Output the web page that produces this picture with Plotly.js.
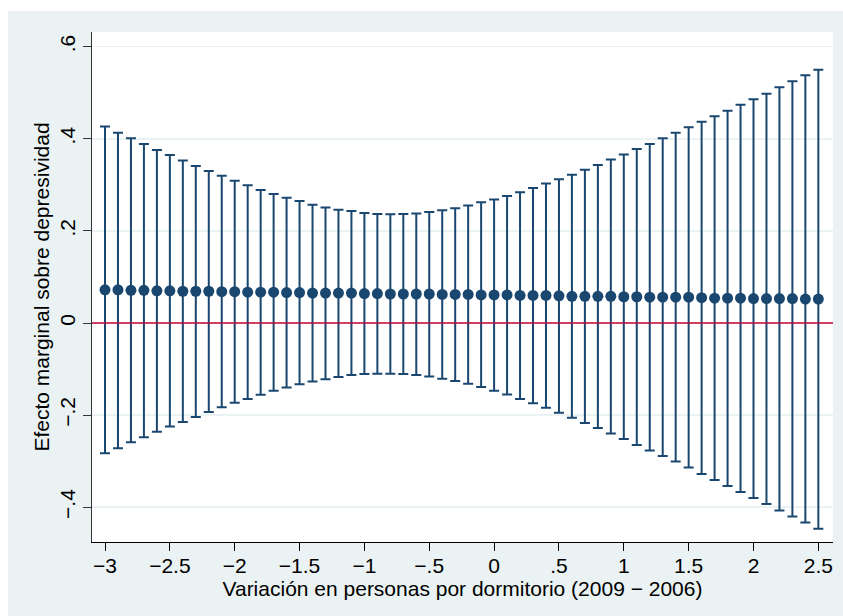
<!DOCTYPE html>
<html>
<head>
<meta charset="utf-8">
<script src="https://cdn.plot.ly/plotly-3.0.1.min.js"></script>
<style>
html,body{margin:0;padding:0;background:#ffffff;}
#chart{position:absolute;left:8px;top:11px;width:835px;height:605px;}
</style>
</head>
<body>
<div id="chart"></div>
<script>
var xVals = [-3.0,-2.9,-2.8,-2.7,-2.6,-2.5,-2.4,-2.3,-2.2,-2.1,
             -2.0,-1.9,-1.8,-1.7,-1.6,-1.5,-1.4,-1.3,-1.2,-1.1,
             -1.0,-0.9,-0.8,-0.7,-0.6,-0.5,-0.4,-0.3,-0.2,-0.1,
              0.0, 0.1, 0.2, 0.3, 0.4, 0.5, 0.6, 0.7, 0.8, 0.9,
              1.0, 1.1, 1.2, 1.3, 1.4, 1.5, 1.6, 1.7, 1.8, 1.9,
              2.0, 2.1, 2.2, 2.3, 2.4, 2.5];

var effect = [0.072,0.072,0.071,0.071,0.070,0.070,0.069,0.069,0.069,0.068,
              0.068,0.067,0.067,0.067,0.066,0.066,0.065,0.065,0.065,0.065,
              0.064,0.064,0.063,0.063,0.063,0.063,0.062,0.062,0.062,0.061,
              0.061,0.061,0.060,0.060,0.060,0.059,0.058,0.058,0.058,0.058,
              0.057,0.057,0.056,0.056,0.056,0.056,0.055,0.054,0.054,0.054,
              0.053,0.053,0.053,0.053,0.052,0.052];

var upper = [0.427,0.413,0.401,0.389,0.376,0.365,0.353,0.341,0.330,0.320,
             0.309,0.299,0.289,0.280,0.272,0.265,0.257,0.251,0.246,0.243,
             0.239,0.237,0.236,0.237,0.238,0.241,0.245,0.249,0.255,0.262,
             0.268,0.276,0.284,0.293,0.303,0.312,0.322,0.333,0.343,0.355,
             0.366,0.378,0.389,0.401,0.413,0.425,0.437,0.449,0.461,0.474,
             0.486,0.498,0.512,0.525,0.538,0.550];

var lower = [-0.283,-0.272,-0.259,-0.248,-0.236,-0.225,-0.215,-0.204,-0.193,-0.183,
             -0.173,-0.165,-0.156,-0.147,-0.140,-0.133,-0.127,-0.122,-0.117,-0.113,
             -0.111,-0.110,-0.110,-0.111,-0.113,-0.116,-0.121,-0.126,-0.132,-0.139,
             -0.147,-0.155,-0.165,-0.174,-0.184,-0.195,-0.206,-0.217,-0.228,-0.240,
             -0.252,-0.265,-0.277,-0.289,-0.301,-0.314,-0.328,-0.341,-0.354,-0.367,
             -0.380,-0.393,-0.407,-0.420,-0.433,-0.447];

var xTickVals = [-3,-2.5,-2,-1.5,-1,-0.5,0,0.5,1,1.5,2,2.5];
var xTickText = ['\u22123','\u22122.5','\u22122','\u22121.5','\u22121','\u2212.5','0','.5','1','1.5','2','2.5'];
var yTickVals = [-0.4,-0.2,0,0.2,0.4,0.6];
var yTickText = ['\u2212.4','\u2212.2','0','.2','.4','.6'];

var navy = '#1a476f';
var plus = upper.map(function(u,i){return u - effect[i];});
var minus = lower.map(function(l,i){return effect[i] - l;});

var traces = [{
  type:'scatter', mode:'markers',
  x:xVals, y:effect,
  marker:{color:navy, size:11, line:{width:0}},
  error_y:{type:'data', symmetric:false, array:plus, arrayminus:minus,
           color:navy, thickness:2, width:5},
  hoverinfo:'x+y'
}];

var font = {family:'Liberation Sans, Arial, sans-serif', size:21, color:'#000'};

var layout = {
  width:835, height:605,
  paper_bgcolor:'#eaf2f3', plot_bgcolor:'#ffffff',
  margin:{l:84, r:10, t:21, b:74},
  showlegend:false,
  font:font,
  xaxis:{
    range:[-3.1003, 2.613], tickmode:'array', tickvals:xTickVals, ticktext:xTickText,
    showgrid:false, zeroline:false, showline:true, linecolor:'#000', linewidth:1,
    ticks:'outside', ticklen:8, tickcolor:'#000', tickwidth:1,
    tickfont:font, ticklabelstandoff:-3,
    title:{text:'Variación en personas por dormitorio (2009 \u2212 2006)', font:font, standoff:0}
  },
  yaxis:{
    range:[-0.4756, 0.632], tickmode:'array', tickvals:yTickVals, ticktext:yTickText,
    tickangle:-90,
    showgrid:true, gridcolor:'#eaf2f3', gridwidth:1.5, zeroline:false,
    showline:true, linecolor:'#333', linewidth:1,
    ticks:'outside', ticklen:8, tickcolor:'#333', tickwidth:1,
    tickfont:font,
    title:{text:'Efecto marginal sobre depresividad', font:font, standoff:0}
  },
  shapes:[{type:'line', xref:'paper', x0:0, x1:1, yref:'y', y0:0, y1:0,
           line:{color:'#c10534', width:1.5}, layer:'above'}]
};

Plotly.newPlot('chart', traces, layout, {displayModeBar:false, staticPlot:true});
</script>
</body>
</html>
